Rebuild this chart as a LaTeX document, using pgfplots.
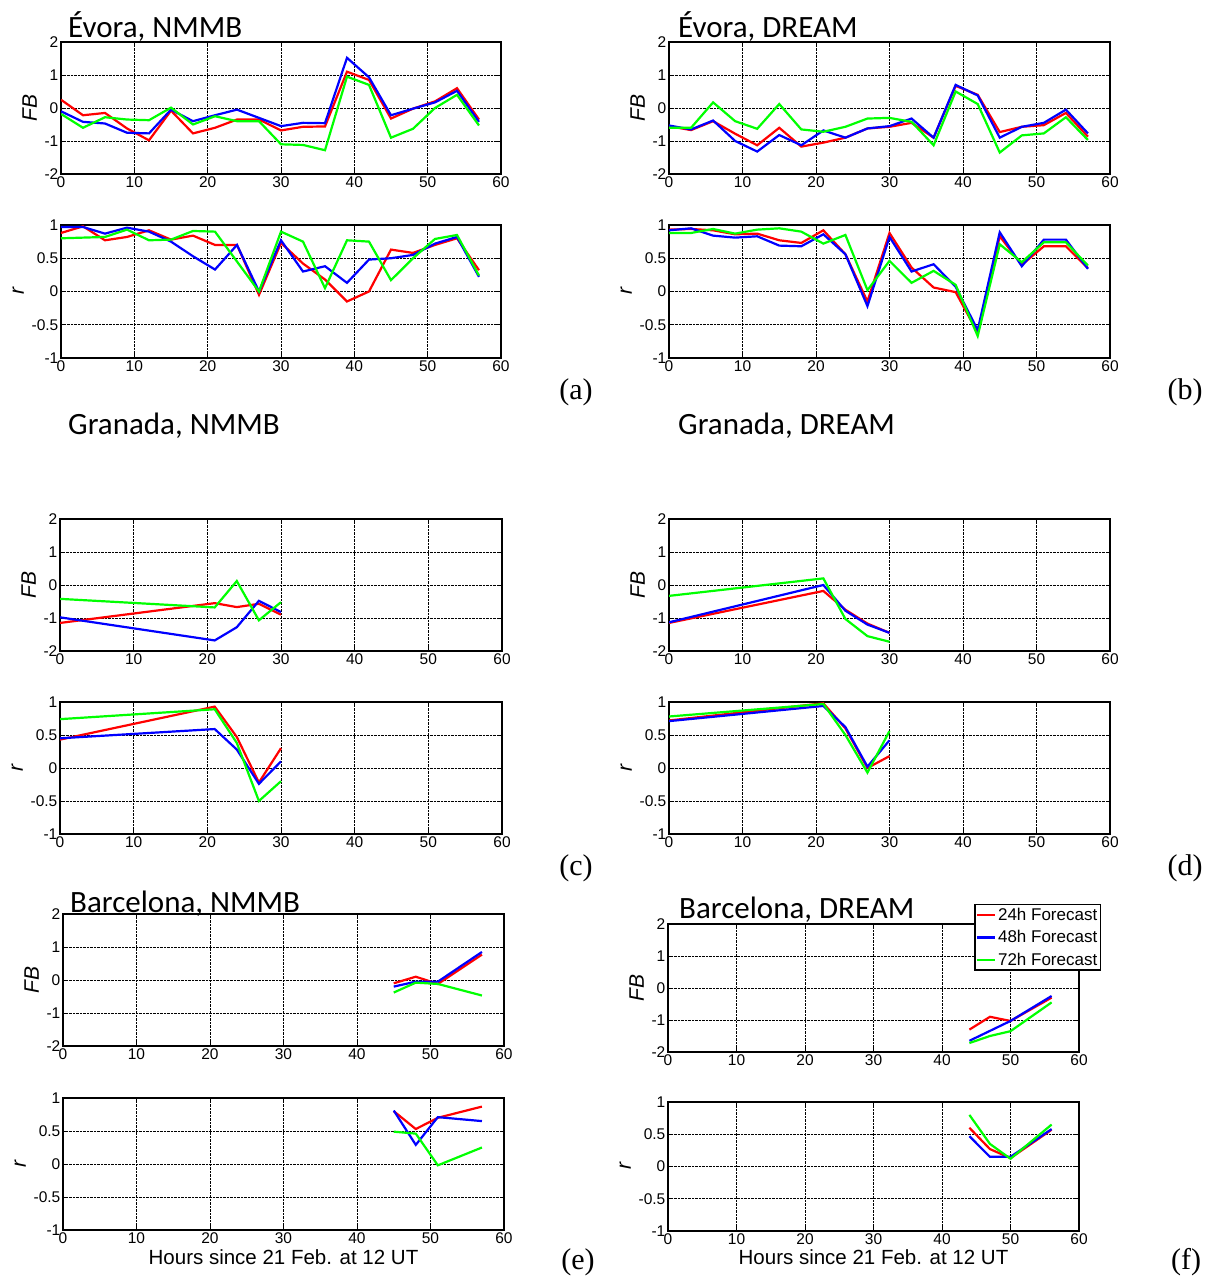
\documentclass[border=0pt]{standalone}
\usepackage{pgfplots}
\pgfplotsset{compat=1.18}
\usepackage{fontspec}
\setmainfont{Liberation Sans}
\newfontfamily\calfont{Carlito}
\newfontfamily\serfont{Liberation Serif}
\newcommand\tf{\fontsize{15.5}{17}\selectfont}
\newcommand\ylfont{\fontsize{21}{23}\selectfont}
\pgfplotsset{
 every tick label/.append style={font=\tf, inner sep=2.5pt},
 every axis y label/.append style={font=\ylfont, inner sep=5pt},
 every axis x label/.append style={font=\fontsize{20.5}{22}\selectfont},
 legend image code/.code={\draw[#1, line width=2.2pt] (0pt,0pt) -- (18pt,0pt);},
 every axis plot/.append style={line width=2.2pt},
 panel/.style={scale only axis, anchor=south west, xmin=0, xmax=60,
   xtick={0,10,20,30,40,50,60}, xticklabels={{\tf 0},{\tf 10},{\tf 20},{\tf 30},{\tf 40},{\tf 50},{\tf 60}},
   grid=major, major grid style={densely dotted, black, line width=0.7pt},
   axis line style={line width=1.7pt}, tick style={black, line width=0.8pt},
   tick align=inside, major tick length=4pt},
 fbax/.style={panel, ymin=-2, ymax=2, ytick={-2,-1,0,1,2}, yticklabels={{\tf -2},{\tf -1},{\tf 0},{\tf 1},{\tf 2}}, ylabel={\ylfont\itshape FB}},
 rax/.style={panel, ymin=-1, ymax=1, ytick={-1,-0.5,0,0.5,1}, yticklabels={{\tf -1},{\tf -0.5},{\tf 0},{\tf 0.5},{\tf 1}}, ylabel={\ylfont\itshape r}},
}
\begin{document}
\begin{tikzpicture}
\path[use as bounding box] (0pt,0pt) rectangle (1206pt,1280pt);
% (a) Evora NMMB FB
\begin{axis}[fbax, at={(61pt,1106pt)}, width=440pt, height=132pt]
\addplot[red] coordinates {(0,0.25)(3,-0.22)(6,-0.15)(9,-0.62)(12,-0.98)(15,-0.08)(18,-0.77)(21,-0.6)(24,-0.35)(27,-0.35)(30,-0.68)(33,-0.57)(36,-0.56)(39,1.1)(42,0.85)(45,-0.32)(48,-0.02)(51,0.2)(54,0.6)(57,-0.35)};
\addplot[blue] coordinates {(0,-0.1)(3,-0.42)(6,-0.47)(9,-0.75)(12,-0.77)(15,-0.05)(18,-0.4)(21,-0.22)(24,-0.05)(27,-0.3)(30,-0.55)(33,-0.45)(36,-0.46)(39,1.52)(42,0.93)(45,-0.22)(48,-0.02)(51,0.17)(54,0.52)(57,-0.42)};
\addplot[green] coordinates {(0,-0.18)(3,-0.6)(6,-0.28)(9,-0.35)(12,-0.37)(15,0.01)(18,-0.5)(21,-0.25)(24,-0.4)(27,-0.4)(30,-1.1)(33,-1.12)(36,-1.28)(39,0.95)(42,0.7)(45,-0.9)(48,-0.63)(51,0.0)(54,0.4)(57,-0.53)};
\end{axis}
% (a) r
\begin{axis}[rax, at={(61pt,922pt)}, width=440pt, height=133pt]
\addplot[red] coordinates {(0,0.88)(3,0.98)(6,0.77)(9,0.82)(12,0.92)(15,0.78)(18,0.84)(21,0.7)(24,0.7)(27,-0.05)(30,0.73)(33,0.42)(36,0.18)(39,-0.15)(42,0.0)(45,0.63)(48,0.58)(51,0.7)(54,0.8)(57,0.32)};
\addplot[blue] coordinates {(0,0.97)(3,0.97)(6,0.87)(9,0.96)(12,0.9)(15,0.75)(18,0.53)(21,0.33)(24,0.7)(27,0.0)(30,0.77)(33,0.3)(36,0.38)(39,0.13)(42,0.48)(45,0.5)(48,0.55)(51,0.72)(54,0.82)(57,0.22)};
\addplot[green] coordinates {(0,0.8)(3,0.81)(6,0.82)(9,0.93)(12,0.77)(15,0.78)(18,0.91)(21,0.9)(24,0.45)(27,0.0)(30,0.9)(33,0.75)(36,0.05)(39,0.77)(42,0.75)(45,0.17)(48,0.5)(51,0.79)(54,0.85)(57,0.24)};
\end{axis}
% (b) Evora DREAM FB
\begin{axis}[fbax, at={(669pt,1106pt)}, width=441pt, height=132pt]
\addplot[red] coordinates {(0,-0.55)(3,-0.67)(6,-0.4)(9,-0.78)(12,-1.13)(15,-0.6)(18,-1.17)(21,-1.05)(24,-0.9)(27,-0.62)(30,-0.57)(33,-0.45)(36,-0.9)(39,0.67)(42,0.4)(45,-0.73)(48,-0.57)(51,-0.52)(54,-0.15)(57,-0.87)};
\addplot[blue] coordinates {(0,-0.53)(3,-0.65)(6,-0.38)(9,-1.0)(12,-1.32)(15,-0.82)(18,-1.13)(21,-0.68)(24,-0.9)(27,-0.62)(30,-0.55)(33,-0.32)(36,-0.9)(39,0.7)(42,0.38)(45,-0.9)(48,-0.57)(51,-0.45)(54,-0.05)(57,-0.77)};
\addplot[green] coordinates {(0,-0.6)(3,-0.6)(6,0.17)(9,-0.4)(12,-0.63)(15,0.12)(18,-0.65)(21,-0.72)(24,-0.57)(27,-0.32)(30,-0.3)(33,-0.42)(36,-1.13)(39,0.5)(42,0.12)(45,-1.35)(48,-0.83)(51,-0.77)(54,-0.28)(57,-0.97)};
\end{axis}
% (b) r
\begin{axis}[rax, at={(669pt,922pt)}, width=441pt, height=133pt]
\addplot[red] coordinates {(0,0.93)(3,0.94)(6,0.92)(9,0.86)(12,0.87)(15,0.77)(18,0.73)(21,0.92)(24,0.56)(27,-0.15)(30,0.88)(33,0.36)(36,0.06)(39,-0.01)(42,-0.62)(45,0.83)(48,0.4)(51,0.68)(54,0.68)(57,0.35)};
\addplot[blue] coordinates {(0,0.92)(3,0.95)(6,0.84)(9,0.81)(12,0.83)(15,0.69)(18,0.68)(21,0.86)(24,0.56)(27,-0.22)(30,0.82)(33,0.3)(36,0.41)(39,0.07)(42,-0.58)(45,0.89)(48,0.38)(51,0.78)(54,0.78)(57,0.34)};
\addplot[green] coordinates {(0,0.88)(3,0.88)(6,0.94)(9,0.87)(12,0.93)(15,0.95)(18,0.9)(21,0.72)(24,0.85)(27,0.02)(30,0.46)(33,0.13)(36,0.31)(39,0.1)(42,-0.67)(45,0.71)(48,0.44)(51,0.74)(54,0.74)(57,0.39)};
\end{axis}
% (c) Granada NMMB FB
\begin{axis}[fbax, at={(60pt,629pt)}, width=442pt, height=132pt]
\addplot[red] coordinates {(0,-1.15)(21,-0.55)(24,-0.67)(27,-0.57)(30,-0.9)};
\addplot[blue] coordinates {(0,-0.98)(21,-1.68)(24,-1.28)(27,-0.48)(30,-0.82)};
\addplot[green] coordinates {(0,-0.42)(21,-0.68)(24,0.12)(27,-1.07)(30,-0.52)};
\end{axis}
% (c) r
\begin{axis}[rax, at={(60pt,446pt)}, width=442pt, height=132pt]
\addplot[red] coordinates {(0,0.43)(21,0.93)(24,0.47)(27,-0.22)(30,0.3)};
\addplot[blue] coordinates {(0,0.45)(21,0.59)(24,0.28)(27,-0.24)(30,0.1)};
\addplot[green] coordinates {(0,0.74)(21,0.89)(24,0.38)(27,-0.5)(30,-0.2)};
\end{axis}
% (d) Granada DREAM FB
\begin{axis}[fbax, at={(669pt,629pt)}, width=441pt, height=132pt]
\addplot[red] coordinates {(0,-1.15)(21,-0.18)(24,-0.75)(27,-1.17)(30,-1.45)};
\addplot[blue] coordinates {(0,-1.13)(21,0.0)(24,-0.78)(27,-1.2)(30,-1.45)};
\addplot[green] coordinates {(0,-0.33)(21,0.2)(24,-1.03)(27,-1.55)(30,-1.72)};
\end{axis}
% (d) r
\begin{axis}[rax, at={(669pt,446pt)}, width=441pt, height=132pt]
\addplot[red] coordinates {(0,0.72)(21,0.98)(24,0.6)(27,0.0)(30,0.18)};
\addplot[blue] coordinates {(0,0.71)(21,0.94)(24,0.62)(27,0.02)(30,0.42)};
\addplot[green] coordinates {(0,0.78)(21,0.97)(24,0.5)(27,-0.07)(30,0.56)};
\end{axis}
% (e) Barcelona NMMB FB
\begin{axis}[fbax, at={(63pt,234pt)}, width=441pt, height=132pt]
\addplot[red] coordinates {(45,-0.1)(48,0.1)(51,-0.12)(57,0.77)};
\addplot[blue] coordinates {(45,-0.2)(48,-0.05)(51,-0.05)(57,0.85)};
\addplot[green] coordinates {(45,-0.38)(48,-0.08)(51,-0.12)(57,-0.47)};
\end{axis}
% (e) r
\begin{axis}[rax, at={(63pt,50pt)}, width=441pt, height=132pt,
  xlabel={Hours since 21 Feb. at 12 UT},
  xlabel style={at={(axis description cs:0.5,0)}, anchor=center, yshift=-27pt}]
\addplot[red] coordinates {(45,0.8)(48,0.53)(51,0.7)(57,0.87)};
\addplot[blue] coordinates {(45,0.81)(48,0.29)(51,0.71)(57,0.65)};
\addplot[green] coordinates {(45,0.49)(48,0.46)(51,-0.02)(57,0.25)};
\end{axis}
% (f) Barcelona DREAM FB
\begin{axis}[fbax, at={(668pt,228pt)}, width=411pt, height=128pt,
  legend style={at={(1.0535,1.156)}, anchor=north east, draw=black, line width=1.4pt, fill=white,
    font=\fontsize{17}{19}\selectfont, inner sep=1pt, row sep=5pt},
  legend cell align=left]
\addplot[red] coordinates {(44,-1.3)(47,-0.9)(50,-1.03)(56,-0.3)};
\addplot[blue] coordinates {(44,-1.65)(47,-1.34)(50,-1.03)(56,-0.25)};
\addplot[green] coordinates {(44,-1.72)(47,-1.5)(50,-1.35)(56,-0.45)};
\legend{24h Forecast,48h Forecast,72h Forecast}
\end{axis}
% (f) r
\begin{axis}[rax, at={(668pt,49pt)}, width=411pt, height=129pt,
  xlabel={Hours since 21 Feb. at 12 UT},
  xlabel style={at={(axis description cs:0.5,0)}, anchor=center, yshift=-26pt}]
\addplot[red] coordinates {(44,0.6)(47,0.27)(50,0.13)(56,0.57)};
\addplot[blue] coordinates {(44,0.47)(47,0.15)(50,0.15)(56,0.58)};
\addplot[green] coordinates {(44,0.8)(47,0.35)(50,0.12)(56,0.65)};
\end{axis}
% titles
\node[anchor=base west, font=\calfont\fontsize{31}{33}\selectfont, inner sep=0pt] at (68pt,1242pt) {Évora, NMMB};
\node[anchor=base west, font=\calfont\fontsize{31}{33}\selectfont, inner sep=0pt] at (678pt,1242pt) {Évora, DREAM};
\node[anchor=base west, font=\calfont\fontsize{31}{33}\selectfont, inner sep=0pt] at (68pt,845pt) {Granada, NMMB};
\node[anchor=base west, font=\calfont\fontsize{31}{33}\selectfont, inner sep=0pt] at (678pt,845pt) {Granada, DREAM};
\node[anchor=base west, font=\calfont\fontsize{31}{33}\selectfont, inner sep=0pt] at (70pt,367pt) {Barcelona, NMMB};
\node[anchor=base west, font=\calfont\fontsize{31}{33}\selectfont, inner sep=0pt] at (679pt,361pt) {Barcelona, DREAM};
% panel letters
\node[font=\serfont\fontsize{30}{32}\selectfont] at (576pt,888pt) {(a)};
\node[font=\serfont\fontsize{30}{32}\selectfont] at (1185pt,888pt) {(b)};
\node[font=\serfont\fontsize{30}{32}\selectfont] at (576pt,412pt) {(c)};
\node[font=\serfont\fontsize{30}{32}\selectfont] at (1185pt,412pt) {(d)};
\node[font=\serfont\fontsize{30}{32}\selectfont] at (578pt,18pt) {(e)};
\node[font=\serfont\fontsize{30}{32}\selectfont] at (1186pt,18pt) {(f)};
\end{tikzpicture}
\end{document}
